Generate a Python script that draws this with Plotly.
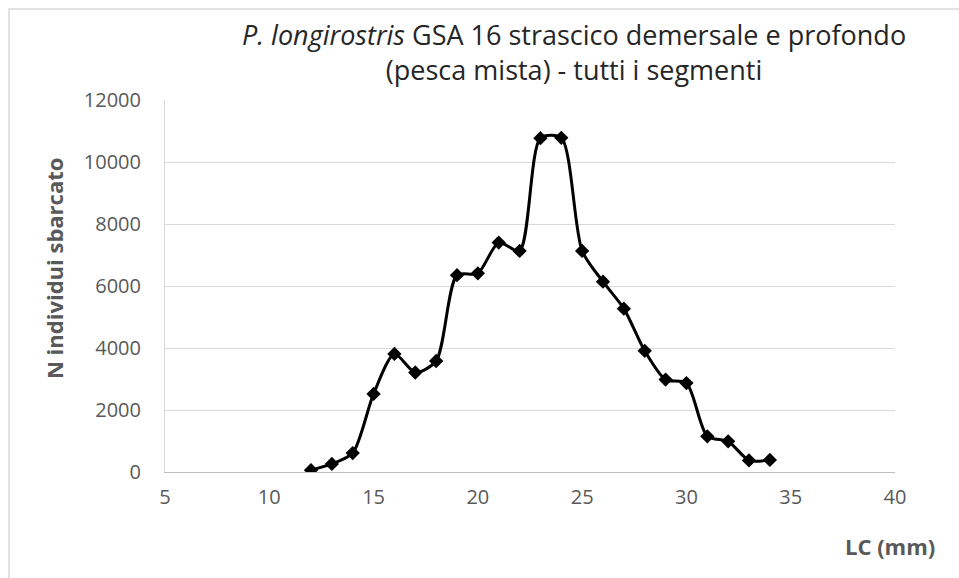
import plotly.graph_objects as go

# LC (mm) classes and landed numbers
lc = [12, 13, 14, 15, 16, 17, 18, 19, 20, 21, 22, 23, 24, 25, 26, 27, 28, 29, 30, 31, 32, 33, 34]
n_ind = [60, 260, 610, 2520, 3810, 3210, 3580, 6350, 6410, 7400, 7130, 10770, 10780, 7130,
         6140, 5270, 3910, 2980, 2870, 1150, 990, 375, 390]

x_ticks = [5, 10, 15, 20, 25, 30, 35, 40]
y_ticks = [0, 2000, 4000, 6000, 8000, 10000, 12000]

FONT = "Open Sans"
GREY = "#595959"

fig = go.Figure()
fig.add_scatter(x=lc, y=n_ind, mode="lines+markers",
                line=dict(color="black", width=3, shape="spline", smoothing=0.75),
                marker=dict(symbol="diamond", size=11, color="black"),
                showlegend=False)

fig.update_layout(
    width=959, height=578,
    margin=dict(l=165, r=64, t=100, b=106),
    paper_bgcolor="white", plot_bgcolor="white",
    font=dict(family=FONT, size=20, color=GREY),
    xaxis=dict(range=[5, 40], tickvals=x_ticks, showgrid=False, zeroline=False,
               showline=True, linecolor="#bfbfbf", linewidth=1,
               ticks="", ticklabelstandoff=7, tickfont=dict(size=20, color=GREY)),
    yaxis=dict(range=[0, 12000], tickvals=y_ticks, tickformat="d", showgrid=True,
               gridcolor="#d9d9d9", gridwidth=1, zeroline=False, showline=True,
               linecolor="#d9d9d9", ticks="", ticklabelstandoff=19,
               tickfont=dict(size=20, color=GREY)),
)

# chart border
fig.add_shape(type="rect", xref="paper", yref="paper",
              x0=(9 - 165) / 730, x1=1.3, y0=-0.5, y1=(472 - 9) / 372,
              line=dict(color="#d9d9d9", width=1.5), layer="below")

fig.add_annotation(xref="paper", yref="paper", x=(574 - 165) / 730, y=(472 - 52) / 372,
                   xanchor="center", yanchor="middle",
                   text="<i>P. longirostris</i> GSA 16 strascico demersale e profondo<br>(pesca mista) - tutti i segmenti",
                   showarrow=False, align="center", font=dict(family=FONT, size=27, color="#262626"))
fig.add_annotation(xref="paper", yref="paper", x=(54 - 165) / 730, y=(472 - 268) / 372,
                   xanchor="center", yanchor="middle",
                   text="<b>N individui sbarcato</b>", textangle=-90, showarrow=False,
                   font=dict(family=FONT, size=22, color=GREY))
fig.add_annotation(xref="paper", yref="paper", x=(890 - 165) / 730, y=(472 - 546) / 372,
                   xanchor="center", yanchor="middle",
                   text="<b>LC (mm)</b>", showarrow=False,
                   font=dict(family=FONT, size=22, color=GREY))

fig.write_html("out.html", config={"displayModeBar": False},
               post_script="document.body.style.margin='0';")
